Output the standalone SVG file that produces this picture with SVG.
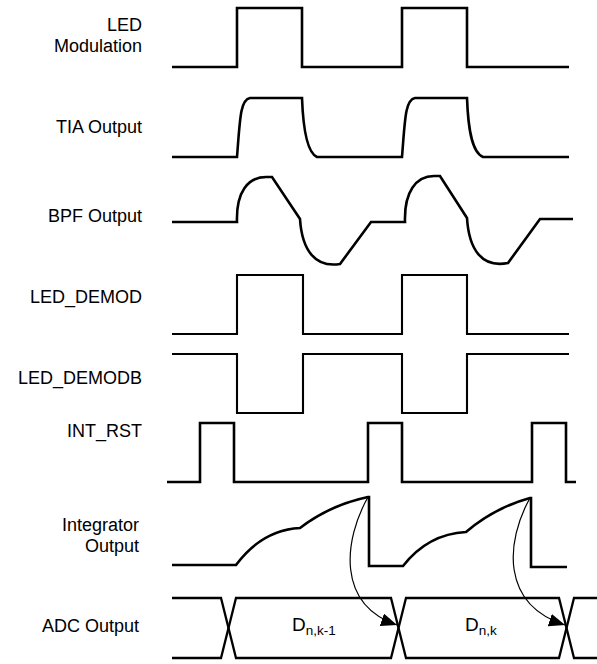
<svg xmlns="http://www.w3.org/2000/svg" width="597" height="664" viewBox="0 0 597 664">
<style>
.lbl{font-family:"Liberation Sans",Arial,sans-serif;font-size:18px;fill:#000;text-anchor:end}
.wf{fill:none;stroke:#000;stroke-width:2.6;stroke-linejoin:miter}
.wt{fill:none;stroke:#000;stroke-width:2.1}
.adc{fill:none;stroke:#000;stroke-width:2.3}
.arr{fill:none;stroke:#000;stroke-width:1.2}
.d{font-family:"Liberation Sans",Arial,sans-serif;font-size:19px;fill:#000}
.sub{font-size:13.5px}
</style>
<defs>
<marker id="ah" viewBox="0 0 16 13" refX="16" refY="6.5" markerWidth="16" markerHeight="13" markerUnits="userSpaceOnUse" orient="auto">
<path d="M0,0 L16,6.5 L0,13 Z" fill="#000"/>
</marker>
</defs>
<rect width="597" height="664" fill="#fff"/>
<g id="labels">
<text class="lbl" x="142" y="31">LED</text>
<text class="lbl" x="142" y="52">Modulation</text>
<text class="lbl" x="142" y="133">TIA Output</text>
<text class="lbl" x="142" y="222">BPF Output</text>
<text class="lbl" x="142" y="303">LED_DEMOD</text>
<text class="lbl" x="142" y="384">LED_DEMODB</text>
<text class="lbl" x="142" y="437">INT_RST</text>
<text class="lbl" x="139" y="531">Integrator</text>
<text class="lbl" x="139" y="552">Output</text>
<text class="lbl" x="139" y="632">ADC Output</text>
</g>
<g id="led-mod"><path class="wf" d="M172,67 H237 V8 H302 V67 H402 V8 H467 V67 H569"/></g>
<g id="tia"><path class="wf" d="M172,157 H237 C240,120 240,100 250,98 H302 C303,125 306,152 317,157 H402 C405,120 405,100 415,98 H467 C468,125 471,152 483,157 H569"/></g>
<g id="bpf"><path class="wf" d="M172,222 H237 C236,192 248,177 266,177 L272,177 L300,219 C302,250 315,268 340,264 L371,222 H405 C404,192 416,176 434,176 L440,176 L467,218 C469,250 482,268 508,263 L540,219 H573"/></g>
<g id="led-demod"><path class="wt" d="M172,334 H237 V275 H303 V334 H402 V275 H467 V334 H569"/></g>
<g id="led-demodb"><path class="wt" d="M172,354 H237 V413 H303 V354 H402 V413 H467 V354 H569"/></g>
<g id="int-rst"><path class="wf" d="M167,482 H200 V423 H234 V482 H368 V423 H402 V482 H532 V423 H566 V482 H576"/></g>
<g id="integrator"><path class="wf" d="M172,565 H236 Q262,530 300,528 Q330,505 368,497 L369,497 V566 H402 L403,566 Q428,534 466,532 Q494,508 530,498 L531,498 V567 H567"/></g>
<g id="adc">
<path class="adc" d="M172,598 H221 L236,658 H391 L406,598 H559 L574,658 H597"/>
<path class="adc" d="M172,658 H221 L236,598 H391 L406,658 H559 L574,598 H597"/>
<text class="d" x="292" y="631">D<tspan class="sub" dy="4">n,k-1</tspan></text>
<text class="d" x="465" y="631">D<tspan class="sub" dy="4">n,k</tspan></text>
</g>
<g id="connectors">
<path class="arr" d="M368,497 C344,540 336,604 397,625" marker-end="url(#ah)"/>
<path class="arr" d="M530,498 C506,541 500,604 565,625" marker-end="url(#ah)"/>
</g>
</svg>
